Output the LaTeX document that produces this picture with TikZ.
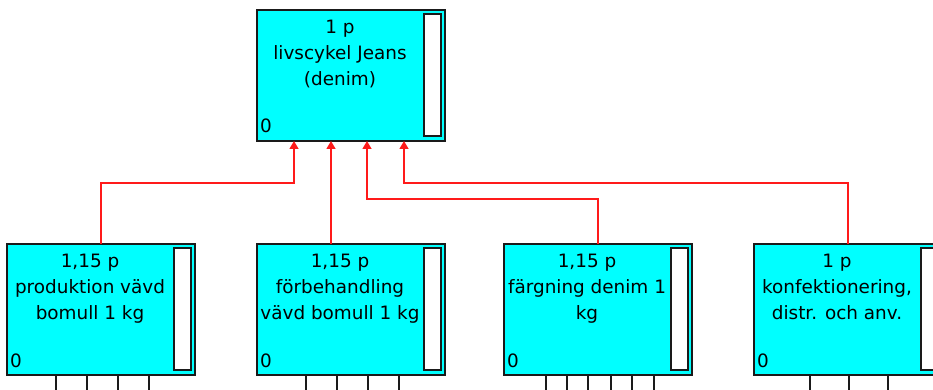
\documentclass[tikz,border=0pt]{standalone}
\usepackage{fontspec}
\setmainfont{DejaVu Sans}
\usetikzlibrary{arrows.meta,calc}
\definecolor{boxcyan}{HTML}{00FFFF}
\definecolor{linered}{HTML}{FF1A1A}
\definecolor{edge}{HTML}{1A1A1A}
\tikzset{
  proc/.style={rectangle, draw=edge, line width=1.5pt, fill=boxcyan,
    minimum width=188pt, minimum height=131pt, inner sep=0pt, outer sep=0pt, anchor=north west},
  gauge/.style={rectangle, draw=edge, line width=1.5pt, fill=white,
    minimum width=17pt, minimum height=122pt, inner sep=0pt, outer sep=0pt, anchor=north east},
  ptext/.style={align=center, inner sep=0pt, anchor=north, font=\fontsize{18.4}{26}\selectfont},
  zero/.style={inner sep=0pt, anchor=base west, font=\fontsize{18.4}{22}\selectfont},
  conn/.style={draw=linered, line width=1.4pt, -{Triangle[length=8pt,width=9pt]}},
  stub/.style={draw=edge, line width=1.4pt},
}
\begin{document}
\begin{tikzpicture}[x=1pt,y=-1pt]
\useasboundingbox (0,0) rectangle (933,390);
\clip (0,0) rectangle (933,390);

% boxes
\node[proc] (top) at (257,10) {};
\node[proc] (b1) at (7,244) {};
\node[proc] (b2) at (257,244) {};
\node[proc] (b3) at (504,244) {};
\node[proc] (b4) at (754,244) {};

% gauges and zero labels
\foreach \n in {top,b1,b2,b3,b4}{
  \node[gauge] (\n G) at ($(\n.north east)+(-4,4)$) {};
  \node[zero] (\n Z) at ($(\n.south west)+(3,-8)$) {0};
}

% texts
\node[ptext] (topT) at ($(top.north west)+(83,5)$) {\strut 1 p\\livscykel Jeans\\(denim)};
\node[ptext] (b1T) at ($(b1.north west)+(83,5)$) {\strut 1,15 p\\produktion vävd\\bomull 1 kg};
\node[ptext] (b2T) at ($(b2.north west)+(83,5)$) {\strut 1,15 p\\förbehandling\\vävd bomull 1 kg};
\node[ptext] (b3T) at ($(b3.north west)+(83,5)$) {\strut 1,15 p\\färgning denim 1\\kg};
\node[ptext] (b4T) at ($(b4.north west)+(83,5)$) {\strut 1 p\\konfektionering,\\distr. och anv.};

% arrow targets on top box
\coordinate (t1) at ($(top.south west)+(37,0)$);
\coordinate (t2) at ($(top.south west)+(74,0)$);
\coordinate (t3) at ($(top.south west)+(110,0)$);
\coordinate (t4) at ($(top.south west)+(147,0)$);
\coordinate (h1) at ($(b1.north)+(0,-61)$);
\coordinate (h3) at ($(b3.north)+(0,-45)$);
\coordinate (h4) at ($(b4.north)+(0,-61)$);

% connectors
\draw[conn] (b1.north) -- (h1) -| (t1);
\draw[conn] (t2 |- b2.north) -- (t2);
\draw[conn] (b3.north) -- (h3) -| (t3);
\draw[conn] (b4.north) -- (h4) -| (t4);

% stubs to nodes below the view
\foreach \x in {49,80,111,142}{
  \draw[stub] ($(b1.south west)+(\x,0)$) -- ++(0,20);
  \draw[stub] ($(b2.south west)+(\x,0)$) -- ++(0,20);
}
\foreach \x in {42,63,84,107,128,150}{
  \draw[stub] ($(b3.south west)+(\x,0)$) -- ++(0,20);
}
\foreach \x in {56,95,134}{
  \draw[stub] ($(b4.south west)+(\x,0)$) -- ++(0,20);
}
\end{tikzpicture}
\end{document}
